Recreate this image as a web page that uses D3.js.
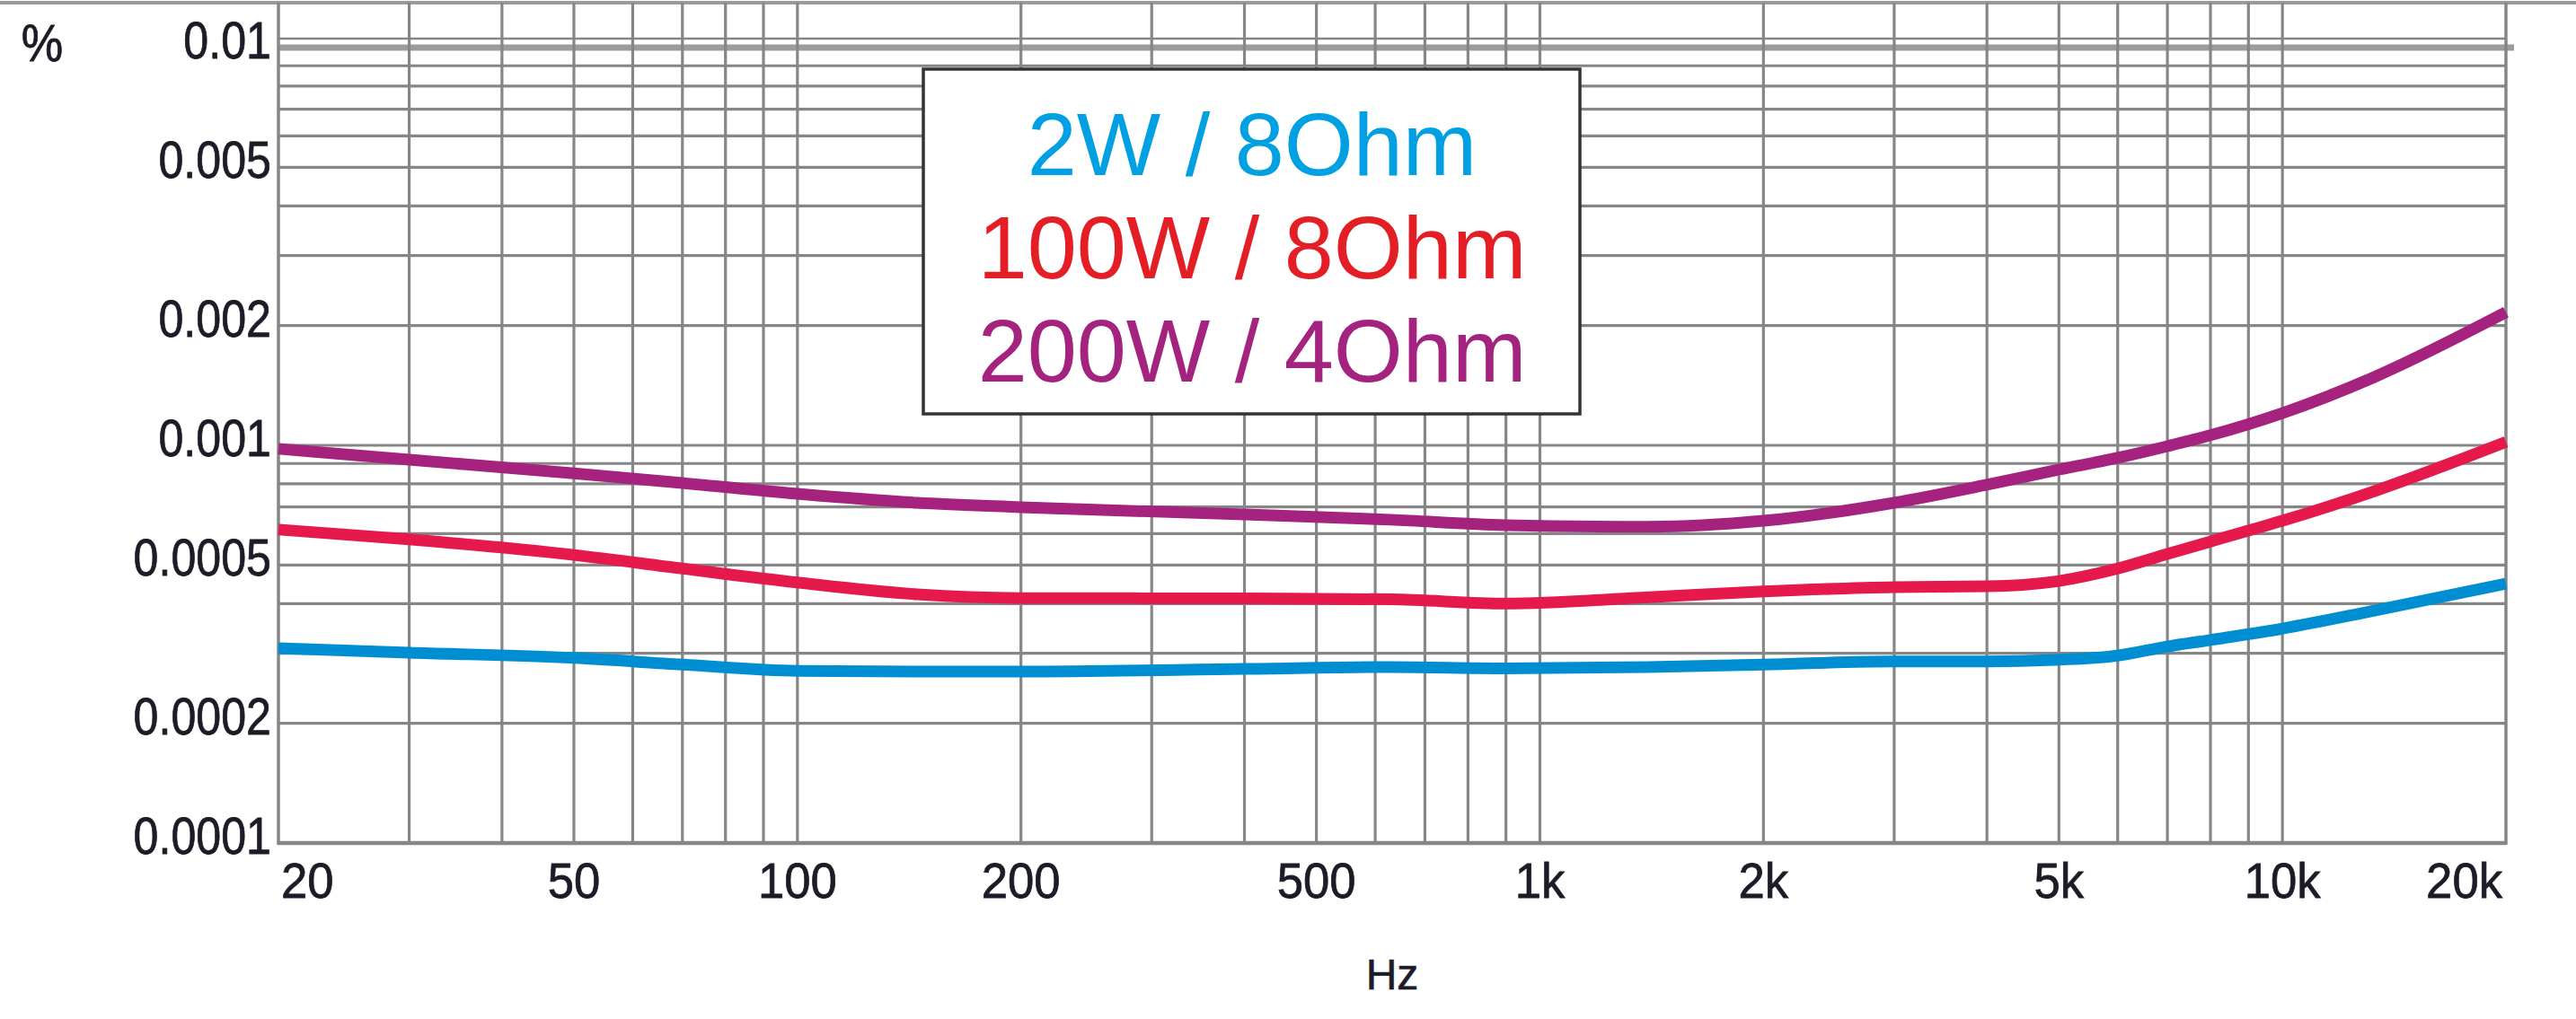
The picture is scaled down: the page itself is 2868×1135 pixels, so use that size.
<!DOCTYPE html>
<html>
<head>
<meta charset="utf-8">
<script src="https://cdn.jsdelivr.net/npm/d3@7"></script>
<style>
  body { margin: 0; background: #fff; }
  text { font-family: "Liberation Sans", Arial, sans-serif; }
</style>
</head>
<body>
<div id="chart"></div>
<script>
// THD+N vs frequency, three load conditions
const freqs = [20, 30, 50, 70, 100, 145, 200, 400, 630, 900, 1400, 2000, 3000, 4000, 5000, 6000, 7000, 8000, 10000, 13300, 20000];

const thd2w8 = [0.000309, 0.000301, 0.000292, 0.000281, 0.000271, 0.00027, 0.00027, 0.000274, 0.000277, 0.000275, 0.000277,
                0.000281, 0.000286, 0.000286, 0.000289, 0.000296, 0.000312, 0.000324, 0.000346, 0.000384, 0.000449];
const thd100w8 = [0.000614, 0.00058, 0.00053, 0.00049, 0.000452, 0.000422, 0.000413, 0.000412, 0.00041, 0.0004, 0.000415,
                  0.000429, 0.00044, 0.000442, 0.000456, 0.00049, 0.000533, 0.000573, 0.000646, 0.000767, 0.00102];
const thd200w4 = [0.00098, 0.00092, 0.00085, 0.000804, 0.000755, 0.000717, 0.000699, 0.00067, 0.00065, 0.00063, 0.000624,
                  0.000646, 0.000717, 0.000796, 0.000869, 0.00093, 0.000995, 0.00106, 0.001205, 0.001485, 0.00216];

const seriesNames = ["2W / 8Ohm", "100W / 8Ohm", "200W / 4Ohm"];
const lineColors = ["#008ed3", "#e5194b", "#a5237f"];
const legendColors = ["#00a0e3", "#e31e24", "#a3237f"];

const xTicks = [20, 50, 100, 200, 500, 1000, 2000, 5000, 10000, 20000];
const xTickLabels = ["20", "50", "100", "200", "500", "1k", "2k", "5k", "10k", "20k"];
const yTicks = [0.01, 0.005, 0.002, 0.001, 0.0005, 0.0002, 0.0001];
const yTickLabels = ["0.01", "0.005", "0.002", "0.001", "0.0005", "0.0002", "0.0001"];

// grid: 1..9 per decade (nothing between 10k and 20k)
const xGrid = [30, 40, 50, 60, 70, 80, 90, 100, 200, 300, 400, 500, 600, 700, 800, 900,
               1000, 2000, 3000, 4000, 5000, 6000, 7000, 8000, 9000, 10000];
const yGrid = [0.0002, 0.0003, 0.0004, 0.0005, 0.0006, 0.0007, 0.0008, 0.0009,
               0.001, 0.002, 0.003, 0.004, 0.005, 0.006, 0.007, 0.008, 0.009];

const width = 2868, height = 1135;
const plotLeft = 310, plotRight = 2790, plotTop = 3, plotBottom = 939;

const svg = d3.select("#chart").append("svg")
    .attr("width", width)
    .attr("height", height);

const x = d3.scaleLog().domain([20, 20000]).range([plotLeft, plotRight]);
const y = d3.scaleLog().domain([0.0001, 0.01]).range([plotBottom, 53]);

const gridColor = "#868686";
const textColor = "#1c1c28";

// top border across the whole picture
svg.append("line")
    .attr("x1", 0).attr("x2", width)
    .attr("y1", plotTop).attr("y2", plotTop)
    .attr("stroke", "#9a9a9a").attr("stroke-width", 4);

// horizontal grid
svg.append("g").selectAll("line")
    .data(yGrid)
    .enter().append("line")
    .attr("x1", plotLeft).attr("x2", plotRight)
    .attr("y1", d => y(d)).attr("y2", d => y(d))
    .attr("stroke", gridColor).attr("stroke-width", 3.2);

// 0.01 line is drawn heavier, with a thin line just above it
svg.append("line")
    .attr("x1", plotLeft).attr("x2", plotRight)
    .attr("y1", y(0.01) - 10).attr("y2", y(0.01) - 10)
    .attr("stroke", gridColor).attr("stroke-width", 2.5);
svg.append("line")
    .attr("x1", plotLeft).attr("x2", plotRight + 9)
    .attr("y1", y(0.01)).attr("y2", y(0.01))
    .attr("stroke", "#9c9c9c").attr("stroke-width", 7);

// vertical grid
svg.append("g").selectAll("line")
    .data(xGrid)
    .enter().append("line")
    .attr("x1", d => x(d)).attr("x2", d => x(d))
    .attr("y1", plotTop).attr("y2", plotBottom)
    .attr("stroke", gridColor).attr("stroke-width", 3.2);

// frame: left, right, bottom
svg.append("line")
    .attr("x1", plotLeft).attr("x2", plotLeft).attr("y1", plotTop).attr("y2", plotBottom + 2)
    .attr("stroke", gridColor).attr("stroke-width", 3.5);
svg.append("line")
    .attr("x1", plotRight).attr("x2", plotRight).attr("y1", plotTop).attr("y2", plotBottom + 2)
    .attr("stroke", gridColor).attr("stroke-width", 3.5);
svg.append("line")
    .attr("x1", plotLeft).attr("x2", plotRight).attr("y1", plotBottom).attr("y2", plotBottom)
    .attr("stroke", gridColor).attr("stroke-width", 4.5);

// curves
const series = [thd2w8, thd100w8, thd200w4];
const line = d3.line()
    .x((d, i) => x(freqs[i]))
    .y(d => y(d))
    .curve(d3.curveMonotoneX);

svg.append("g").selectAll("path")
    .data(series)
    .enter().append("path")
    .attr("d", d => line(d))
    .attr("fill", "none")
    .attr("stroke", (d, i) => lineColors[i])
    .attr("stroke-width", 13);

// legend box
const legend = svg.append("g");
legend.append("rect")
    .attr("x", 1028).attr("y", 77)
    .attr("width", 731).attr("height", 384)
    .attr("fill", "#fff")
    .attr("stroke", "#333").attr("stroke-width", 3.5);
legend.selectAll("text")
    .data(seriesNames)
    .enter().append("text")
    .attr("x", 1394)
    .attr("y", (d, i) => 195 + i * 115)
    .attr("text-anchor", "middle")
    .attr("font-size", 99)
    .attr("fill", (d, i) => legendColors[i])
    .text(d => d);

// narrow the axis labels like the original's condensed face
function condense(sel, k) {
    sel.each(function () {
        const w = this.getComputedTextLength();
        d3.select(this).attr("textLength", w * k).attr("lengthAdjust", "spacingAndGlyphs");
    });
}

// y tick labels
svg.append("g").selectAll("text")
    .data(yTicks)
    .enter().append("text")
    .attr("x", 302)
    .attr("y", d => y(d) + 12)
    .attr("text-anchor", "end")
    .attr("font-size", 57)
    .attr("fill", textColor)
    .attr("stroke", textColor).attr("stroke-width", 0.8)
    .text((d, i) => yTickLabels[i])
    .call(condense, 0.88);

// x tick labels (first and last kept inside the frame)
svg.append("g").selectAll("text")
    .data(xTicks)
    .enter().append("text")
    .attr("x", (d, i) => i === 0 ? x(d) + 3 : (i === xTicks.length - 1 ? x(d) - 4 : x(d)))
    .attr("y", 1000)
    .attr("text-anchor", (d, i) => i === 0 ? "start" : (i === xTicks.length - 1 ? "end" : "middle"))
    .attr("font-size", 56)
    .attr("fill", textColor)
    .attr("stroke", textColor).attr("stroke-width", 0.8)
    .text((d, i) => xTickLabels[i])
    .call(condense, 0.94);

// axis units
svg.append("text")
    .attr("x", 47).attr("y", 68)
    .attr("text-anchor", "middle")
    .attr("font-size", 58)
    .attr("fill", textColor)
    .attr("stroke", textColor).attr("stroke-width", 0.8)
    .text("%")
    .call(condense, 0.9);

svg.append("text")
    .attr("x", 1550).attr("y", 1102)
    .attr("text-anchor", "middle")
    .attr("font-size", 48)
    .attr("fill", textColor)
    .attr("stroke", textColor).attr("stroke-width", 0.6)
    .text("Hz");
</script>
</body>
</html>
